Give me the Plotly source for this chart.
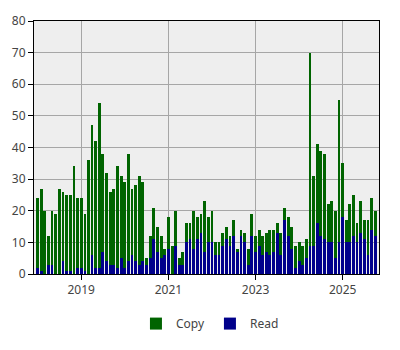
import pandas as pd
import plotly.graph_objects as go

months = pd.date_range("2018-01-01", periods=94, freq="MS")

copy_vals = [
    24, 27, 20, 12, 20, 19, 27, 26, 25, 25, 34, 24,
    24, 19, 36, 47, 42, 54, 38, 32, 26, 27, 34, 31,
    29, 38, 27, 28, 31, 29, 5, 12, 21, 15, 12, 8,
    18, 9, 20, 5, 7, 16, 16, 20, 18, 19, 23, 18,
    20, 10, 10, 13, 15, 12, 17, 8, 14, 13, 8, 19,
    12, 14, 12, 13, 14, 14, 16, 13, 21, 18, 15, 9,
    10, 9, 11, 70, 31, 41, 39, 38, 22, 23, 20, 55,
    35, 17, 22, 25, 16, 23, 17, 17, 24, 20,
]
read_vals = [
    2, 1, 0, 3, 3, 0, 0, 4, 1, 1, 0, 2,
    2, 1, 0, 6, 2, 2, 7, 4, 3, 3, 2, 5,
    2, 4, 6, 4, 3, 4, 3, 5, 11, 7, 5, 6,
    8, 0, 9, 3, 3, 10, 11, 8, 11, 13, 7, 10,
    10, 6, 6, 9, 11, 9, 12, 7, 12, 10, 3, 12,
    7, 9, 6, 7, 6, 7, 13, 6, 17, 12, 8, 2,
    4, 3, 5, 9, 9, 16, 12, 11, 10, 10, 5, 10,
    18, 10, 10, 12, 10, 13, 11, 6, 14, 12,
]
y_ticks = [0, 10, 20, 30, 40, 50, 60, 70, 80]

bar_width_ms = 24 * 86400000
font_family = "Noto Sans, Open Sans, DejaVu Sans, sans-serif"

fig = go.Figure()
fig.add_trace(go.Bar(x=months, y=copy_vals, name="Copy",
                     marker=dict(color="#006400", line=dict(width=0)),
                     width=bar_width_ms))
fig.add_trace(go.Bar(x=months, y=read_vals, name="Read",
                     marker=dict(color="#00008B", line=dict(width=0)),
                     width=bar_width_ms))

fig.update_layout(
    width=400, height=350,
    margin=dict(l=32, r=21, t=15, b=75),
    barmode="overlay",
    paper_bgcolor="white",
    plot_bgcolor="#eeeeee",
    font=dict(family=font_family, size=12, color="#444444"),
    showlegend=True,
    legend=dict(orientation="h", x=0.51, xanchor="center", y=-0.196, yanchor="middle",
                font=dict(size=12, color="#444444"), itemwidth=30,
                bgcolor="rgba(0,0,0,0)"),
    bargap=0,
)
fig.update_xaxes(
    type="date",
    range=["2017-12-01", "2025-11-01"],
    tick0="2019-01-01", dtick="M24", tickformat="%Y",
    showgrid=True, gridcolor="#a6a6a6", gridwidth=1,
    showline=True, linecolor="black", linewidth=1, mirror=True,
    ticks="outside", ticklen=5, tickcolor="black",
    zeroline=False,
)
fig.update_yaxes(
    range=[0, 80], tickvals=y_ticks,
    showgrid=True, gridcolor="#a6a6a6", gridwidth=1,
    showline=True, linecolor="black", linewidth=1, mirror=True,
    ticks="outside", ticklen=5, tickcolor="black",
    zeroline=False,
)

fig.write_html("out.html")
